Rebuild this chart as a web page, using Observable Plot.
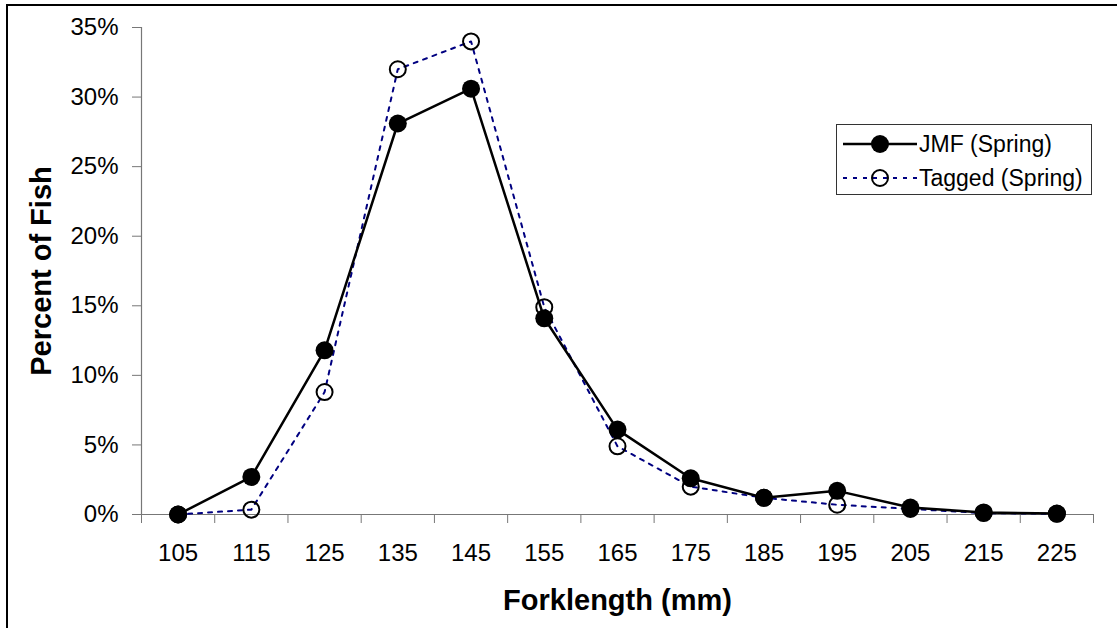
<!DOCTYPE html>
<html>
<head>
<meta charset="utf-8">
<script src="https://cdn.jsdelivr.net/npm/d3@7"></script>
<script src="https://cdn.jsdelivr.net/npm/@observablehq/plot@0.6"></script>
<style>
  html, body { margin: 0; padding: 0; background: #fff; overflow: hidden; }
  #wrap { position: relative; width: 1117px; height: 628px; overflow: hidden; font-family: "Liberation Sans", Arial, sans-serif; }
  #border { position: absolute; left: 6px; top: 4px; width: 1300px; height: 800px; border: 2px solid #000; pointer-events: none; }
  #legend { position: absolute; left: 836px; top: 124px; width: 254px; height: 69px; border: 1px solid #333; background: #fff; }
  #legend .row { position: absolute; left: 0; height: 30px; display: flex; align-items: center; }
  #legend .row span { font-size: 23px; color: #000; margin-left: 0px; white-space: nowrap; }
</style>
</head>
<body>
<div id="wrap">
  <div id="chart"></div>
  <div id="border"></div>
  <div id="legend"></div>
</div>
<script>
// Categories (forklength bins, mm)
const forklength = [105, 115, 125, 135, 145, 155, 165, 175, 185, 195, 205, 215, 225];
// Percent of fish, JMF (Spring)
const jmfSpring = [0, 2.7, 11.8, 28.1, 30.6, 14.1, 6.1, 2.6, 1.2, 1.7, 0.5, 0.15, 0.07];
// Percent of fish, Tagged (Spring)
const taggedSpring = [0, 0.35, 8.8, 32.0, 34.0, 14.9, 4.9, 2.0, 1.2, 0.7, 0.4, 0.1, 0.05];
// Y tick labels
const yTicks = [0, 5, 10, 15, 20, 25, 30, 35];
const seriesNames = ["JMF (Spring)", "Tagged (Spring)"];

const binWidth = forklength[1] - forklength[0];
const boundaries = forklength.map(c => c - binWidth / 2).concat([forklength[forklength.length - 1] + binWidth / 2]);
const xDomain = [boundaries[0], boundaries[boundaries.length - 1]];

const jmf = forklength.map((x, i) => ({x, y: jmfSpring[i]}));
const tagged = forklength.map((x, i) => ({x, y: taggedSpring[i]}));

const axisColor = "#777";

const chart = Plot.plot({
  width: 1117,
  height: 628,
  marginTop: 27,
  marginRight: 24,
  marginBottom: 114,
  marginLeft: 141,
  style: {fontFamily: "'Liberation Sans', Arial, sans-serif", fontSize: "24px", color: "#000", background: "transparent"},
  x: {type: "linear", domain: xDomain},
  y: {domain: [0, 35]},
  marks: [
    Plot.ruleX([xDomain[0]], {stroke: axisColor, strokeWidth: 1.2}),
    Plot.ruleY([0], {stroke: axisColor, strokeWidth: 1.2}),
    Plot.axisY({ticks: yTicks, tickFormat: d => d + "%", tickSize: 9, tickPadding: 14, stroke: axisColor,
      label: "Percent of Fish", labelAnchor: "center", labelArrow: "none", labelOffset: 111}),
    Plot.axisX({ticks: boundaries, tickFormat: () => "", tickSize: 9, stroke: axisColor, label: null}),
    Plot.axisX({ticks: forklength, tickFormat: d => String(d), tickSize: 0, tickPadding: 29,
      label: "Forklength (mm)", labelAnchor: "center", labelArrow: "none", labelOffset: 95}),
    Plot.line(tagged, {x: "x", y: "y", stroke: "#000080", strokeWidth: 2, strokeDasharray: "4,6"}),
    Plot.dot(tagged, {x: "x", y: "y", r: 8, stroke: "#000", strokeWidth: 2, fill: "none"}),
    Plot.line(jmf, {x: "x", y: "y", stroke: "#000", strokeWidth: 2.5}),
    Plot.dot(jmf, {x: "x", y: "y", r: 9, fill: "#000", stroke: "none"})
  ]
});
// bold axis titles
d3.select(chart).selectAll("[aria-label='y-axis label'] text, [aria-label='x-axis label'] text")
  .style("font-weight", "bold").style("font-size", "29px");
document.getElementById("chart").appendChild(chart);

// Legend
const legend = d3.select("#legend");
const styles = [
  {dash: null, color: "#000", sw: 2.5, fill: "#000", stroke: "none", r: 9},
  {dash: "4,6", color: "#000080", sw: 2, fill: "none", stroke: "#000", r: 8}
];
seriesNames.forEach((name, i) => {
  const s = styles[i];
  const row = legend.append("div").attr("class", "row").style("top", (i === 0 ? 4 : 38) + "px");
  const svg = row.append("svg").attr("width", 82).attr("height", 30);
  svg.append("line").attr("x1", 6).attr("x2", 80).attr("y1", 15).attr("y2", 15)
    .attr("stroke", s.color).attr("stroke-width", s.sw).attr("stroke-dasharray", s.dash);
  svg.append("circle").attr("cx", 43).attr("cy", 15).attr("r", s.r)
    .attr("fill", s.fill).attr("stroke", s.stroke).attr("stroke-width", 2);
  row.append("span").text(name);
});
</script>
</body>
</html>
